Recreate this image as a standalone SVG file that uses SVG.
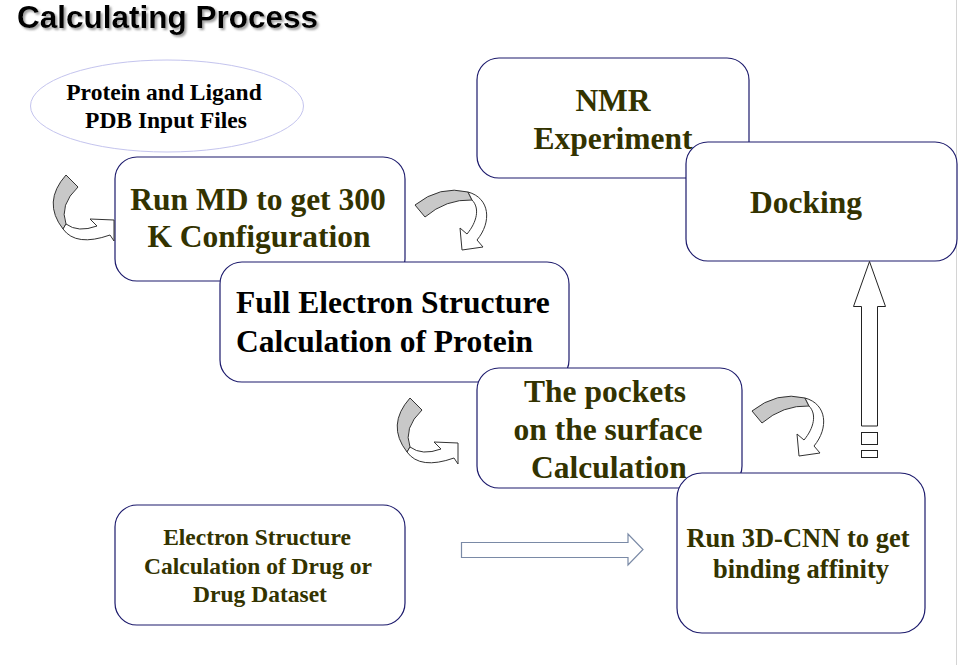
<svg xmlns="http://www.w3.org/2000/svg" width="959" height="665" viewBox="0 0 959 665">
<style>
.box{fill:#fff;stroke:#1c1a6c;stroke-width:1.2}
.big{font-family:"Liberation Serif","Times New Roman",serif;font-weight:bold;font-size:31.5px;text-anchor:middle}
.mid{font-family:"Liberation Serif","Times New Roman",serif;font-weight:bold;font-size:26.5px;text-anchor:middle}
.sm{font-family:"Liberation Serif","Times New Roman",serif;font-weight:bold;font-size:23.5px;text-anchor:middle}
.ol{fill:#333300}
.bk{fill:#000}
.gray{fill:#c8c8c8;stroke:#333;stroke-width:1}
.wh{fill:#fff;stroke:#333;stroke-width:1}
</style>
<defs>
<filter id="shadow" x="-5%" y="-30%" width="110%" height="160%"><feDropShadow dx="2" dy="2" stdDeviation="1" flood-color="#888" flood-opacity="0.8"/></filter>
<g id="curlDown">
<path class="gray" d="M415,205 Q440,185 468,192 L472,200 Q446,199 425,217 Z"/>
<path class="wh" d="M468,192 C490,198 492,222 477,240 L483,247 L462,250 L460,228 L467,234 C477,222 480,208 472,200 Z"/>
</g>
<g id="curlRight">
<path class="gray" d="M410,398 L422,410 Q403,428 410,447 L407,452 Q386,425 410,398 Z"/>
<path class="wh" d="M407,452 Q420,470 454,458 L458,464 L458,443 L434,442 L441,449 Q422,456 410,447 Z"/>
</g>
</defs>
<rect width="959" height="665" fill="#fff"/>
<line x1="956.5" y1="0" x2="956.5" y2="665" stroke="#d4d4d4" stroke-width="1"/>
<g id="title">
<text x="17" y="28" font-family="Liberation Sans,Arial,sans-serif" font-weight="bold" font-size="31.5" fill="#000" filter="url(#shadow)">Calculating Process</text>
</g>
<g id="node-input">
<ellipse cx="167" cy="106" rx="136.5" ry="46" fill="#fff" stroke="#c4c4ee" stroke-width="1"/>
<text class="sm bk" x="164" y="100">Protein and Ligand</text>
<text class="sm bk" x="166" y="128">PDB Input Files</text>
</g>
<g id="node-md">
<rect class="box" x="115" y="157" width="290" height="124" rx="22"/>
<text class="big ol" x="258" y="210">Run MD to get 300</text>
<text class="big ol" x="259" y="247">K Configuration</text>
</g>
<g id="node-full">
<rect class="box" x="220" y="262" width="349" height="120" rx="22"/>
<text class="big bk" x="236" y="313" style="text-anchor:start">Full Electron Structure</text>
<text class="big bk" x="236" y="352" style="text-anchor:start">Calculation of Protein</text>
</g>
<g id="node-pockets">
<rect class="box" x="477" y="368" width="265" height="120" rx="22"/>
<text class="big ol" x="605" y="402">The pockets</text>
<text class="big ol" x="608" y="440">on the surface</text>
<text class="big ol" x="609" y="478">Calculation</text>
</g>
<g id="node-nmr">
<rect class="box" x="477" y="58" width="272" height="120" rx="22"/>
<text class="big ol" x="613" y="111">NMR</text>
<text class="big ol" x="613" y="149">Experiment</text>
</g>
<g id="node-docking">
<rect class="box" x="686" y="142" width="271" height="119" rx="22"/>
<text class="big ol" x="806" y="213">Docking</text>
</g>
<g id="node-cnn">
<rect class="box" x="677" y="473" width="248" height="160" rx="25"/>
<text class="mid ol" x="798" y="547">Run 3D-CNN to get</text>
<text class="mid ol" x="801" y="578">binding affinity</text>
</g>
<g id="node-drug">
<rect class="box" x="115" y="505" width="290" height="120" rx="22"/>
<text class="sm ol" x="257" y="545">Electron Structure</text>
<text class="sm ol" x="258" y="574">Calculation of Drug or</text>
<text class="sm ol" x="260" y="602">Drug Dataset</text>
</g>
<g id="connectors">
<use href="#curlRight" transform="translate(-344,-223)"/>
<use href="#curlDown"/>
<use href="#curlRight"/>
<use href="#curlDown" transform="translate(337,206)"/>
<polygon points="461.5,542.5 628,542.5 628,534 643,549.5 628,565 628,557.5 461.5,557.5" fill="#fff" stroke="#7a8aa6" stroke-width="1.2"/>
<polygon points="869.5,261.5 885.5,306.5 877.5,306.5 877.5,426 861.5,426 861.5,306.5 853.5,306.5" fill="#fff" stroke="#222" stroke-width="1"/>
<rect x="861.5" y="432.5" width="16" height="12" fill="#fff" stroke="#222" stroke-width="1"/>
<rect x="861.5" y="450.5" width="16" height="7" fill="#fff" stroke="#222" stroke-width="1"/>
</g>
</svg>
